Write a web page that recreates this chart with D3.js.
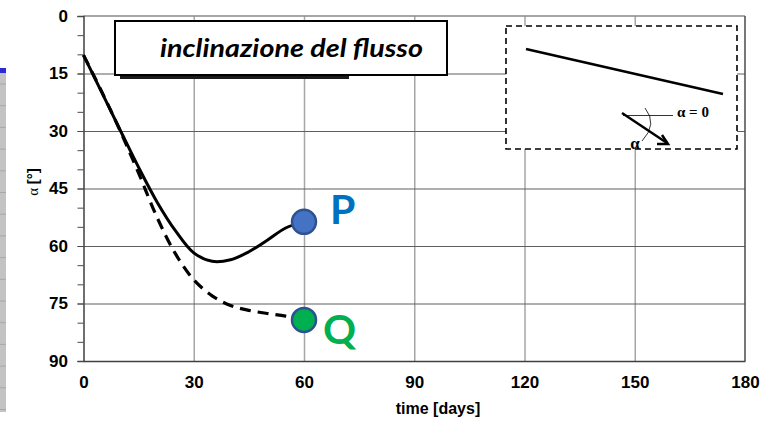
<!DOCTYPE html>
<html>
<head>
<meta charset="utf-8">
<script src="https://cdn.jsdelivr.net/npm/d3@7"></script>
<style>
  body { margin: 0; background: #fff; }
  svg { display: block; }
  .axis text {
    font-family: "Liberation Sans", Arial, sans-serif;
    font-weight: bold;
    font-size: 17px;
    fill: #000;
  }
</style>
</head>
<body>
<div id="chart"></div>
<script>
// time [days] and flow inclination alpha [deg]
const days = [0, 5, 10, 15, 20, 25, 30, 35, 40, 45, 50, 55, 60];
const alphaSolid = [10.2, 20, 29.8, 39.5, 48.5, 56, 61.8, 64, 63.6, 61.5, 58.5, 55.3, 53.7];
const alphaDashed = [10.2, 19.8, 30, 41, 52.5, 62, 68.8, 73, 75.5, 76.8, 77.6, 78.3, 79.3];

const pointNames = ['P', 'Q'];
const pointDays = [60, 60];
const pointAlpha = [53.7, 79.3];

const xTicks = [0, 30, 60, 90, 120, 150, 180];
const yTicks = [0, 15, 30, 45, 60, 75, 90];
const yMinorTicks = [0, 5, 10, 15, 20, 25, 30, 35, 40, 45, 50, 55, 60, 65, 70, 75, 80, 85, 90];

const titleText = 'inclinazione del flusso';
const xLabel = 'time [days]';

class FlowChart {
  constructor(_config) {
    this.config = {
      parentElement: _config.parentElement,
      containerWidth: 768,
      containerHeight: 422,
      margin: { top: 16, right: 23, bottom: 61, left: 83.5 },
    };
    this.initVis();
  }

  initVis() {
    const vis = this;
    const m = vis.config.margin;
    vis.width = vis.config.containerWidth - m.left - m.right;
    vis.height = vis.config.containerHeight - m.top - m.bottom;

    vis.svg = d3.select(vis.config.parentElement).append('svg')
      .attr('width', vis.config.containerWidth)
      .attr('height', vis.config.containerHeight);

    // grey strip of a neighbouring window at the far left
    const strip = vis.svg.append('g');
    strip.append('rect').attr('x', 0).attr('y', 70).attr('width', 6).attr('height', 342).attr('fill', '#c3c3c3');
    strip.append('rect').attr('x', 0).attr('y', 68).attr('width', 6).attr('height', 5).attr('fill', '#2a2ad8');
    strip.selectAll('line.s').data(d3.range(84, 410, 21.7)).join('line')
      .attr('x1', 0).attr('x2', 6).attr('y1', (d) => d).attr('y2', (d) => d)
      .attr('stroke', '#a8a8a8');

    vis.chart = vis.svg.append('g')
      .attr('transform', `translate(${m.left},${m.top})`);

    vis.xScale = d3.scaleLinear().domain([0, 180]).range([0, vis.width]);
    vis.yScale = d3.scaleLinear().domain([0, 90]).range([0, vis.height]);

    vis.renderVis();
  }

  renderVis() {
    const vis = this;
    const x = vis.xScale;
    const y = vis.yScale;

    // vertical grid
    vis.chart.append('g')
      .attr('transform', `translate(0,${vis.height})`)
      .call(d3.axisBottom(x).tickValues(xTicks.slice(1, -1)).tickSize(-vis.height).tickFormat(''))
      .call((g) => g.select('.domain').remove())
      .selectAll('line').attr('stroke', '#a6a6a6').attr('stroke-width', 1.5);

    // horizontal grid
    vis.chart.append('g')
      .call(d3.axisLeft(y).tickValues(yTicks.slice(1, -1)).tickSize(-vis.width).tickFormat(''))
      .call((g) => g.select('.domain').remove())
      .selectAll('line').attr('stroke', '#5f5f5f').attr('stroke-width', 1);

    // frame top / right
    vis.chart.append('line').attr('x1', 0).attr('x2', vis.width).attr('y1', 0).attr('y2', 0)
      .attr('stroke', '#8a8a8a').attr('stroke-width', 1.5);
    vis.chart.append('line').attr('x1', vis.width).attr('x2', vis.width).attr('y1', 0).attr('y2', vis.height)
      .attr('stroke', '#4a4a4a').attr('stroke-width', 1.5);

    // y axis minor ticks
    vis.chart.append('g')
      .call(d3.axisLeft(y).tickValues(yMinorTicks).tickSize(6).tickFormat(''))
      .call((g) => g.select('.domain').remove())
      .selectAll('line').attr('stroke', '#4a4a4a');

    // y axis
    vis.chart.append('g')
      .attr('class', 'axis')
      .call(d3.axisLeft(y).tickValues(yTicks).tickSize(6).tickPadding(9.5))
      .call((g) => g.select('.domain').attr('stroke', '#404040').attr('stroke-width', 1.5))
      .call((g) => g.selectAll('line').attr('stroke', '#4a4a4a'));

    // x axis
    vis.chart.append('g')
      .attr('class', 'axis')
      .attr('transform', `translate(0,${vis.height})`)
      .call(d3.axisBottom(x).tickValues(xTicks).tickSize(0).tickPadding(15))
      .call((g) => g.select('.domain').attr('stroke', '#404040').attr('stroke-width', 1.5));

    // axis titles
    vis.svg.append('text')
      .attr('x', 438).attr('y', 414)
      .attr('text-anchor', 'middle')
      .attr('font-family', '"Liberation Sans", Arial, sans-serif')
      .attr('font-weight', 'bold').attr('font-size', 16)
      .text(xLabel);

    const yl = vis.svg.append('text')
      .attr('transform', 'translate(38,182) rotate(-90)')
      .attr('text-anchor', 'middle')
      .attr('font-size', 15);
    yl.append('tspan').attr('font-family', '"Liberation Serif", "DejaVu Serif", serif').text('α ');
    yl.append('tspan').attr('font-family', '"Liberation Sans", Arial, sans-serif')
      .attr('font-weight', 'bold').text('[°]');

    // curves
    const line = d3.line()
      .x((d, i) => x(days[i]))
      .y((d) => y(d))
      .curve(d3.curveCatmullRom.alpha(0.5));

    vis.chart.append('path')
      .attr('d', line(alphaDashed))
      .attr('fill', 'none').attr('stroke', '#000').attr('stroke-width', 3.2)
      .attr('stroke-dasharray', '11,7');

    vis.chart.append('path')
      .attr('d', line(alphaSolid))
      .attr('fill', 'none').attr('stroke', '#000').attr('stroke-width', 3);

    // P and Q
    const fillColor = { P: '#4472c4', Q: '#00b050' };
    const textColor = { P: '#0070c0', Q: '#00b050' };
    const pts = pointNames.map((n, i) => ({ name: n, day: pointDays[i], alpha: pointAlpha[i] }));

    vis.chart.selectAll('circle.pt').data(pts).join('circle')
      .attr('class', 'pt')
      .attr('cx', (d) => x(d.day)).attr('cy', (d) => y(d.alpha))
      .attr('r', 12)
      .attr('fill', (d) => fillColor[d.name])
      .attr('stroke', '#2f528f').attr('stroke-width', 2.5);

    vis.chart.selectAll('text.pt').data(pts).join('text')
      .attr('class', 'pt')
      .attr('x', (d) => x(d.day) + (d.name === 'P' ? 26 : 19))
      .attr('y', (d) => y(d.alpha) + (d.name === 'P' ? 2 : 24))
      .attr('font-family', 'Lato, "Open Sans", sans-serif')
      .attr('font-weight', 'bold').attr('font-size', 41)
      .attr('fill', (d) => textColor[d.name])
      .text((d) => d.name);

    // title box
    vis.svg.append('rect').attr('x', 120).attr('y', 75).attr('width', 229).attr('height', 4).attr('fill', '#1a1a1a');
    vis.svg.append('rect').attr('x', 115).attr('y', 21).attr('width', 332).attr('height', 54)
      .attr('fill', '#fff').attr('stroke', '#000').attr('stroke-width', 2);
    vis.svg.append('text')
      .attr('x', 291.5).attr('y', 57)
      .attr('text-anchor', 'middle')
      .attr('font-family', 'Lato, "Open Sans", sans-serif')
      .attr('font-style', 'italic').attr('font-weight', 'bold').attr('font-size', 25)
      .attr('textLength', 263).attr('lengthAdjust', 'spacingAndGlyphs')
      .text(titleText);

    // inset sketch
    const inset = vis.svg.append('g');
    inset.append('rect').attr('x', 506).attr('y', 26).attr('width', 231).attr('height', 123)
      .attr('fill', '#fff').attr('stroke', '#000').attr('stroke-width', 1.6)
      .attr('stroke-dasharray', '6,4');
    inset.append('line').attr('x1', 526).attr('y1', 49).attr('x2', 723).attr('y2', 94)
      .attr('stroke', '#000').attr('stroke-width', 2.5);
    inset.append('line').attr('x1', 623).attr('y1', 115.5).attr('x2', 673).attr('y2', 115.5)
      .attr('stroke', '#000').attr('stroke-width', 0.8);
    inset.append('line').attr('x1', 622).attr('y1', 113).attr('x2', 667).attr('y2', 143)
      .attr('stroke', '#000').attr('stroke-width', 2.5);
    inset.append('path').attr('d', 'M657,144 L668,144 L662,135')
      .attr('fill', 'none').attr('stroke', '#000').attr('stroke-width', 2.5);
    inset.append('path').attr('d', 'M645,108 Q658,124 642,141')
      .attr('fill', 'none').attr('stroke', '#000').attr('stroke-width', 0.8);
    inset.append('text').attr('x', 677).attr('y', 117)
      .attr('font-family', '"Liberation Serif", "DejaVu Serif", serif')
      .attr('font-weight', 'bold').attr('font-size', 15)
      .text('α = 0');
    inset.append('text').attr('x', 635).attr('y', 149).attr('text-anchor', 'middle')
      .attr('font-family', '"Liberation Serif", "DejaVu Serif", serif')
      .attr('font-weight', 'bold').attr('font-size', 17)
      .text('α');
  }
}

new FlowChart({ parentElement: '#chart' });
</script>
</body>
</html>
